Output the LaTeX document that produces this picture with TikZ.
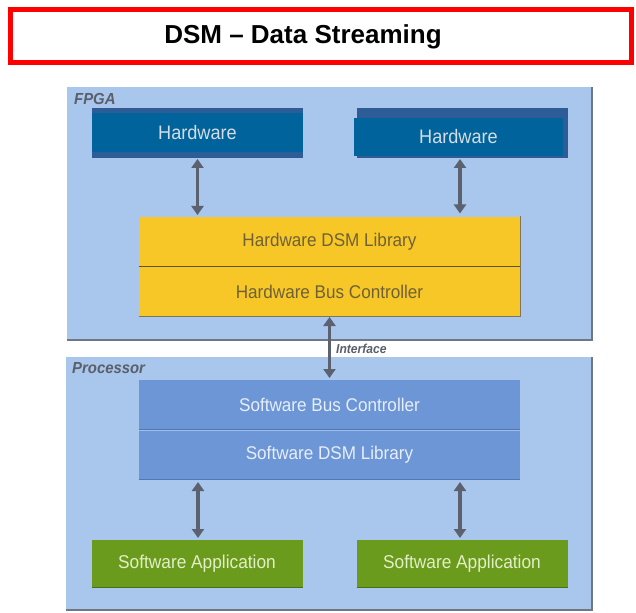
\documentclass[tikz,border=0pt]{standalone}
\usepackage{fontspec}
\setmainfont{Liberation Sans}
\newfontfamily\narrowfont[FakeStretch=0.93]{Liberation Sans}
\usetikzlibrary{arrows.meta}
\definecolor{panelblue}{HTML}{A9C6EC}
\definecolor{panelshadow}{HTML}{6E7785}
\definecolor{hwblue}{HTML}{00639C}
\definecolor{hwstripe}{HTML}{2E5C96}
\definecolor{hwtext}{HTML}{D5DCE3}
\definecolor{yel}{HTML}{F6C726}
\definecolor{yeltext}{HTML}{6F6135}
\definecolor{yelline}{HTML}{5E5230}
\definecolor{swblue}{HTML}{6C96D6}
\definecolor{swdark}{HTML}{5277B3}
\definecolor{swlight}{HTML}{9DBDEB}
\definecolor{swtext}{HTML}{E8EEF8}
\definecolor{grn}{HTML}{6B9B1C}
\definecolor{grnedge}{HTML}{4B6E14}
\definecolor{grntext}{HTML}{E2EFC6}
\definecolor{arrowgray}{HTML}{5C6170}
\definecolor{labelgray}{HTML}{5A5F69}
\definecolor{titlered}{HTML}{FF0000}
\tikzset{
  panel/.style={fill=panelblue, inner sep=0pt, outer sep=0pt},
  shadowline/.style={draw=panelshadow, line width=2.5pt},
  paneltitle/.style={text=labelgray, inner sep=0pt, anchor=west,
    font=\narrowfont\fontsize{16}{18}\selectfont\bfseries\itshape},
  hwbox/.style={fill=hwblue, inner sep=0pt, outer sep=0pt, text=hwtext,
    font=\narrowfont\fontsize{19.5}{22}\selectfont},
  yelbox/.style={fill=yel, inner sep=0pt, outer sep=0pt, text=yeltext,
    minimum width=381pt, minimum height=50pt,
    font=\narrowfont\fontsize{18.4}{21}\selectfont},
  swbox/.style={fill=swblue, inner sep=0pt, outer sep=0pt, text=swtext,
    minimum width=381pt, minimum height=50pt,
    font=\narrowfont\fontsize{18.4}{21}\selectfont},
  appbox/.style={fill=grn, inner sep=0pt, outer sep=0pt, text=grntext,
    minimum width=211pt, minimum height=48pt,
    font=\narrowfont\fontsize{18.6}{21}\selectfont},
  biarrow/.style={draw=arrowgray, line width=3.6pt,
    {Triangle[width=12pt,length=9pt]}-{Triangle[width=12pt,length=9pt]}},
  titlebox/.style={draw=titlered, line width=5pt, inner sep=0pt,
    minimum width=621pt, minimum height=53pt},
  titletext/.style={inner sep=0pt, font=\fontsize{26}{30}\selectfont\bfseries}
}
\begin{document}
\begin{tikzpicture}[x=1pt,y=-1pt]
\useasboundingbox (0,0) rectangle (636,612);
\fill[white] (0,0) rectangle (636,612);
% title
\node[titlebox] (title) at (321,36) {};
\node[titletext] (titletext) at (303,37) {DSM – Data Streaming};
% panels
\node[panel, minimum width=526pt, minimum height=254pt] (fpga) at (330,214) {};
\draw[shadowline] ([yshift=1.25pt]fpga.south west) -- ([shift={(-1.25pt,1.25pt)}]fpga.south east) -- ([xshift=-1.25pt]fpga.north east);
\node[panel, minimum width=527pt, minimum height=254pt] (proc) at (329.5,484) {};
\draw[shadowline] ([yshift=1.25pt]proc.south west) -- ([shift={(-1.25pt,1.25pt)}]proc.south east) -- ([xshift=-1.25pt]proc.north east);
\node[paneltitle] (fpgalabel) at (74,99) {FPGA};
\node[paneltitle] (proclabel) at (72,368) {Processor};
% hardware boxes
\node[hwbox, minimum width=211pt, minimum height=50pt, fill=hwstripe] (hw1back) at (197.5,133) {};
\node[hwbox, minimum width=211pt, minimum height=39pt] (hw1) at (197.5,132.5) {Hardware};
\fill[hwstripe] (357,108) rectangle (568,158);
\node[hwbox, minimum width=209pt, minimum height=38pt] (hw2) at (458.5,137) {Hardware};
% yellow block
\node[yelbox] (hwlib) at (329.5,241.5) {Hardware DSM Library};
\node[yelbox] (hwbus) at (329.5,291.5) {Hardware Bus Controller};
\draw[yelline, line width=1.3pt] (hwlib.south west) -- (hwlib.south east);
\draw[yelline!80, line width=1pt] ([yshift=0.5pt]hwbus.south west) -- ([yshift=0.5pt]hwbus.south east) -- ([yshift=0.5pt]hwlib.north east);
% software block
\node[swbox] (swbus) at (329.5,405) {Software Bus Controller};
\node[swbox] (swlib) at (329.5,455) {Software DSM Library};
\draw[swdark, line width=1pt] ([yshift=1pt]swbus.south west) -- ([yshift=1pt]swbus.south east);
\draw[swlight, line width=0.8pt] ([yshift=-0.8pt]swlib.north west) -- ([yshift=-0.8pt]swlib.north east);
\draw[swdark, line width=1pt] ([yshift=0.5pt]swlib.south west) -- ([yshift=0.5pt]swlib.south east);
% applications
\node[appbox] (app1) at (197,564) {Software Application};
\node[appbox] (app2) at (462,564) {Software Application};
\draw[grnedge, line width=1.2pt] ([yshift=0.6pt]app1.south west) -- ([yshift=0.6pt]app1.south east);
\draw[grnedge, line width=1.2pt] ([yshift=0.6pt]app2.south west) -- ([yshift=0.6pt]app2.south east);
% arrows
\draw[biarrow] ([yshift=-1pt]hw1back.south) -- ([yshift=1.5pt]hw1back.south |- hwlib.north);
\coordinate (hw2foot) at (460,158);
\draw[biarrow] ([yshift=-1pt]hw2foot) -- ([yshift=3pt]hw2foot |- hwlib.north);
\draw[biarrow] ([yshift=-0.5pt]hwbus.south) -- ([yshift=2pt]swbus.north);
\coordinate (sw1foot) at (198,480);
\coordinate (sw2foot) at (460,480);
\draw[biarrow] ([yshift=-2pt]sw1foot) -- ([yshift=2pt]sw1foot |- app1.north);
\draw[biarrow] ([yshift=-2pt]sw2foot) -- ([yshift=2pt]sw2foot |- app2.north);
\node[paneltitle, font=\narrowfont\fontsize{13}{15}\selectfont\bfseries\itshape] (iflabel) at (336,349) {Interface};
\end{tikzpicture}
\end{document}
